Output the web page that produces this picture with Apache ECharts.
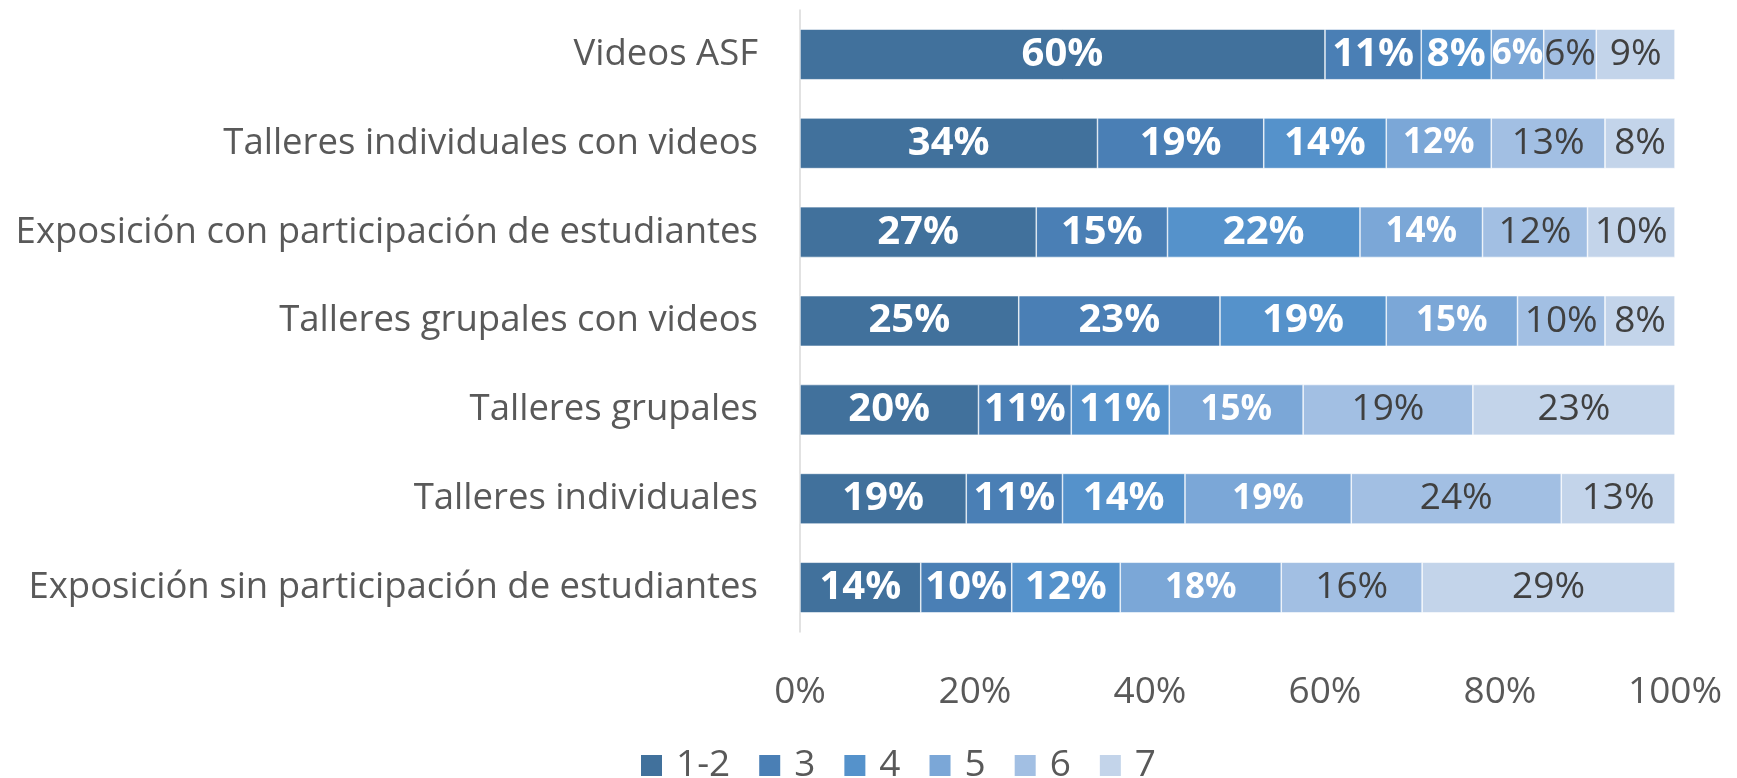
<!DOCTYPE html>
<html>
<head>
<meta charset="utf-8">
<script src="https://cdn.jsdelivr.net/npm/echarts@6/dist/echarts.min.js"></script>
<style>
  html, body { margin: 0; padding: 0; background: #fff; }
  #chart { width: 1737px; height: 778px; }
</style>
</head>
<body>
<div id="chart"></div>
<script>
// categorias (de arriba hacia abajo)
const categories = [
    "Videos ASF",
    "Talleres individuales con videos",
    "Exposición con participación de estudiantes",
    "Talleres grupales con videos",
    "Talleres grupales",
    "Talleres individuales",
    "Exposición sin participación de estudiantes"
]
const seriesNames = ["1-2", "3", "4", "5", "6", "7"]

// porcentajes por nivel, mismo orden que categories
const s12 = [60, 34, 27, 25, 20.4, 19, 13.8]
const s3 = [11, 19, 15, 23, 10.6, 11, 10.4]
const s4 = [8, 14, 22, 19, 11.2, 14, 12.4]
const s5 = [6, 12, 14, 15, 15.3, 19, 18.4]
const s6 = [6, 13, 12, 10, 19.4, 24, 16.1]
const s7 = [9, 8, 10, 8, 23.1, 13, 28.9]

const xTicks = [0, 20, 40, 60, 80, 100]

const colors = ["#41719c", "#4a7fb5", "#5592cb", "#7ba7d7", "#a2bfe3", "#c3d4ea"]
const FONT = "'Open Sans', 'Noto Sans', sans-serif"

const el = document.getElementById("chart")
const chart = echarts.init(el)

function labelStyle(idx) {
    // los niveles 6 y 7 llevan texto oscuro normal, el resto blanco en negrita
    if (idx >= 4) {
        return {show: true, color: "#404040", fontWeight: "normal", fontSize: 37, fontFamily: FONT}
    }
    return {show: true, color: "#fff", fontWeight: "bold", fontSize: idx == 3 ? 35 : 40, fontFamily: FONT}
}

const allData = [s12, s3, s4, s5, s6, s7]
let series = []
allData.forEach((d, i) => {
    series.push({
        name: seriesNames[i],
        type: "bar",
        stack: "total",
        barCategoryGap: "43%",
        data: d,
        itemStyle: {color: colors[i], borderColor: "#fff", borderWidth: 0.6},
        label: Object.assign(labelStyle(i), {
            position: "inside",
            formatter: (p) => Math.round(p.value) + "%"
        }),
        emphasis: {disabled: true}
    })
})

const option = {
    animation: false,
    color: colors,
    grid: {left: 800, right: 62, top: 10, bottom: 146},
    legend: {
        data: seriesNames,
        left: 634,
        top: 742,
        itemWidth: 23,
        itemHeight: 23,
        itemGap: 27,
        icon: "rect",
        textStyle: {color: "#595959", fontSize: 37, fontFamily: FONT, padding: [0, 0, 0, 8]}
    },
    xAxis: {
        type: "value",
        min: xTicks[0],
        max: xTicks[xTicks.length - 1],
        interval: 20,
        axisLine: {show: false},
        axisTick: {show: false},
        splitLine: {show: false},
        axisLabel: {
            color: "#595959",
            fontSize: 37,
            fontFamily: FONT,
            margin: 42,
            formatter: (v) => v + "%"
        }
    },
    yAxis: {
        type: "category",
        inverse: true,
        data: categories,
        axisLine: {show: true, lineStyle: {color: "#d9d9d9", width: 1.5}},
        axisTick: {show: false},
        axisLabel: {
            color: "#595959",
            fontSize: 36.5,
            fontFamily: FONT,
            margin: 42
        }
    },
    series: series
}

chart.setOption(option)
</script>
</body>
</html>
